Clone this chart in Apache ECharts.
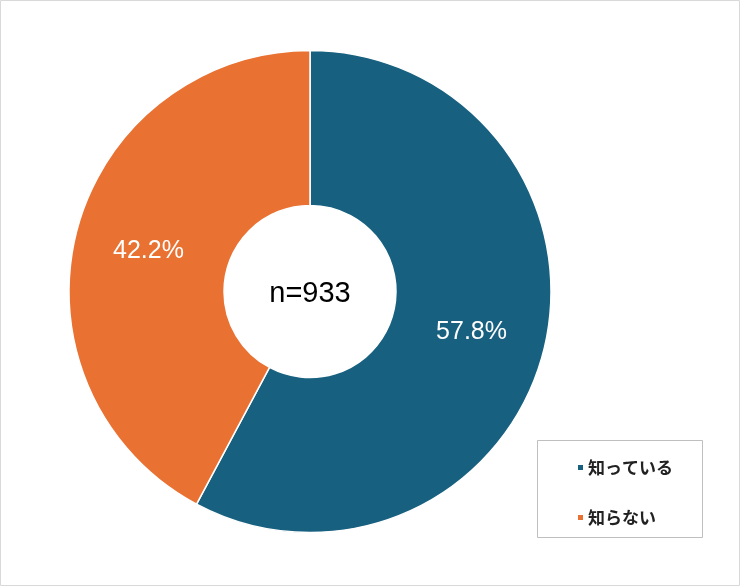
<!DOCTYPE html>
<html><head><meta charset="utf-8">
<script src="https://cdn.jsdelivr.net/npm/echarts@6/dist/echarts.min.js"></script>
<style>html,body{margin:0;padding:0;background:#fff}#c{width:740px;height:586px}</style>
</head><body><div id="c"></div>
<script>
const categories = ['知っている', '知らない'];
const values = [57.8, 42.2];
const colors = ['#17607f', '#e97132'];
const centerText = 'n=933';

const chart = echarts.init(document.getElementById('c'), null, {renderer: 'canvas'});
chart.setOption({
  animation: false,
  color: colors,
  graphic: [
    {type: 'rect', shape: {x: 0.5, y: 0.5, width: 739, height: 585}, style: {fill: 'none', stroke: '#d9d9d9', lineWidth: 1}, z: 0},
    {type: 'rect', shape: {x: 537.5, y: 440.5, width: 165, height: 97}, style: {fill: '#fff', stroke: '#bfbfbf', lineWidth: 1}, z: 1},
    {type: 'text', x: 310, y: 294, style: {text: centerText, textAlign: 'center', textVerticalAlign: 'middle', font: '29px "Liberation Sans", Arial, sans-serif', fill: '#000'}, z: 10}
  ],
  legend: {
    orient: 'vertical',
    left: 571, top: 454,
    itemWidth: 7, itemHeight: 7,
    itemGap: 33,
    icon: 'rect',
    textStyle: {fontSize: 17, fontWeight: 'bold', color: '#222', fontFamily: '"Noto Sans CJK JP", sans-serif', padding: [0,0,0,-1]},
    data: categories,
    z: 5
  },
  series: [{
    type: 'pie',
    center: [310, 291.5],
    radius: [86, 241],
    startAngle: 90,
    clockwise: true,
    avoidLabelOverlap: false,
    itemStyle: {borderColor: '#fff', borderWidth: 1.5},
    label: {
      position: 'inside',
      formatter: p => p.value.toFixed(1) + '%',
      color: '#fff',
      fontSize: 25,
      padding: [4, 0, 0, 0],
      fontFamily: '"Liberation Sans", Arial, sans-serif'
    },
    labelLine: {show: false},
    emphasis: {disabled: true},
    data: categories.map((c, i) => ({name: c, value: values[i]}))
  }]
});
</script></body></html>
